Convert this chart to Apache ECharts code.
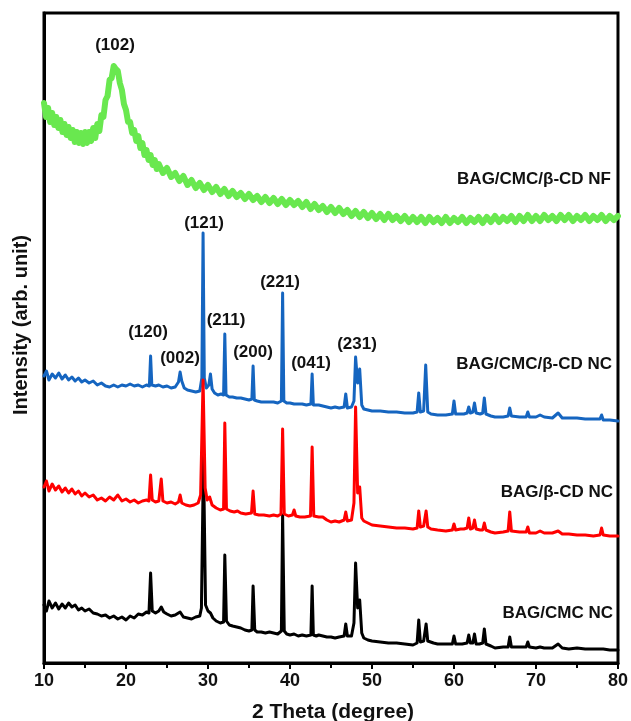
<!DOCTYPE html>
<html>
<head>
<meta charset="utf-8">
<script src="https://cdn.jsdelivr.net/npm/echarts@6/dist/echarts.min.js"></script>
<style>
  html, body { margin: 0; padding: 0; background: #fff; }
  #chart { width: 631px; height: 721px; }
</style>
</head>
<body>
<div id="chart"></div>
<script>
// x axis (2 theta) ticks
const xTicks = [10, 20, 30, 40, 50, 60, 70, 80]

// 各样品的 XRD 数据 [2θ, 强度(任意单位, 已垂直偏移)]
const bagCmcNc = [[10,58],[10.3,52],[10.6,62],[11,55],[11.4,60],[11.8,54],[12.2,59],[12.6,55],[13,60],[13.4,56],[13.8,58],[14.2,53],[14.6,55],[15,52],[15.5,54],[16,50],[16.5,49],[17,47],[17.5,48],[18,45],[18.5,47],[19,44],[19.5,46],[20,43],[20.5,47],[21,45],[21.5,49],[22,48],[22.5,51],[22.8,50],[23.0,90],[23.2,52],[23.6,50],[24,52],[24.3,56],[24.6,51],[25,49],[25.5,47],[26,48],[26.6,51],[27,46],[27.5,45],[28,44],[28.5,46],[29,47],[29.2,55],[29.45,207],[29.7,58],[30,52],[30.3,50],[30.6,45],[31,42],[31.5,40],[31.9,41],[32.05,108],[32.25,42],[32.6,38],[33,37],[33.5,36],[34,35],[34.5,33],[35,32],[35.35,33],[35.5,77],[35.7,33],[36,31],[36.5,31],[37,30],[37.5,31],[38,30],[38.5,29],[38.95,32],[39.1,148],[39.3,32],[39.6,29],[40,28],[40.5,29],[41,27],[41.5,28],[42,27],[42.55,28],[42.7,77],[42.85,28],[43.2,27],[43.5,28],[44,27],[44.5,26],[45,26],[45.5,25],[46,26],[46.6,27],[46.8,39],[47,27],[47.5,27],[47.8,40],[48.0,100],[48.25,55],[48.5,63],[48.75,30],[49,25],[49.5,23],[50,22],[51,21],[52,20],[53,20],[54,19],[55,18],[55.5,20],[55.7,43],[55.9,21],[56.3,22],[56.6,39],[56.8,22],[57,20],[57.5,20],[58,19],[59,19],[59.8,19],[60.0,27],[60.2,19],[61,19],[61.6,20],[61.8,28],[62.0,20],[62.3,20],[62.5,29],[62.7,19],[63.1,19],[63.5,20],[63.7,34],[63.9,19],[64.5,17],[65,15],[66,16],[66.6,16],[66.8,26],[67,16],[68,16],[68.8,16],[69.0,21],[69.2,16],[70,15],[70.5,16],[71,15],[72,15],[72.7,19],[73.2,15],[74,14],[75,15],[76,14],[77,14],[77.8,14],[78.0,16],[78.2,14],[79,13],[80,13]]

const bagCdNc = [[10,176],[10.3,182],[10.6,172],[11,179],[11.4,173],[11.8,177],[12.2,171],[12.6,175],[13,170],[13.4,174],[13.8,169],[14.2,172],[14.6,167],[15,170],[15.5,166],[16,168],[16.5,163],[17,165],[17.5,162],[18,166],[18.5,163],[19,168],[19.5,162],[20,164],[20.5,161],[21,163],[21.5,160],[22,162],[22.5,163],[22.8,162],[23.0,188],[23.2,163],[23.6,161],[24.0,162],[24.3,184],[24.5,162],[25,160],[25.5,161],[26,159],[26.4,161],[26.6,168],[26.8,160],[27.3,158],[27.8,157],[28.3,158],[28.8,160],[29.1,168],[29.4,283],[29.65,175],[29.9,163],[30.2,166],[30.5,158],[31,155],[31.5,153],[31.9,154],[32.05,240],[32.25,154],[32.7,152],[33.2,151],[33.6,152],[34,150],[34.6,149],[35.3,150],[35.5,172],[35.7,149],[36.2,148],[36.8,148],[37.5,147],[38,148],[38.5,147],[38.9,149],[39.1,234],[39.3,149],[39.8,147],[40.3,148],[40.5,153],[40.7,147],[41.2,146],[41.8,146],[42.5,147],[42.7,216],[42.9,147],[43.5,146],[44,146],[44.5,143],[45,141],[45.5,142],[46,141],[46.6,143],[46.8,151],[47,142],[47.5,143],[47.8,160],[48.0,256],[48.25,170],[48.5,176],[48.75,145],[49,142],[49.5,140],[50,138],[51,137],[52,136],[53,135],[54,135],[55,134],[55.5,135],[55.7,152],[55.9,136],[56.3,137],[56.6,152],[56.8,136],[57.2,134],[58,133],[59,132],[59.8,133],[60.0,139],[60.2,133],[60.8,134],[61.0,136],[61.2,134],[61.6,135],[61.8,145],[62.0,134],[62.3,135],[62.5,143],[62.7,134],[63.2,133],[63.5,133],[63.7,140],[63.9,133],[64.5,131],[65,130],[66,131],[66.6,132],[66.8,151],[67,132],[68,131],[68.8,131],[69.0,136],[69.2,130],[70,130],[70.5,132],[71,130],[72,130],[72.7,132],[73.2,129],[74,129],[75,128],[76,128],[77,127],[77.8,128],[78.0,135],[78.2,128],[79,127],[80,127]]

const bagCmcCdNc = [[10,287],[10.3,292],[10.6,283],[11,289],[11.4,285],[11.8,290],[12.2,284],[12.6,288],[13,283],[13.4,286],[13.8,282],[14.2,285],[14.6,281],[15,283],[15.5,280],[16,282],[16.5,278],[17,280],[17.5,277],[18,276],[18.5,278],[19,276],[19.5,278],[20,277],[20.5,279],[21,277],[21.5,278],[22,276],[22.5,278],[22.85,277],[23.0,307],[23.15,278],[23.6,277],[24,278],[24.5,276],[25,277],[25.5,275],[26,276],[26.4,281],[26.6,291],[26.8,282],[27.1,275],[27.5,273],[28,272],[28.5,271],[29,272],[29.25,285],[29.4,430],[29.55,285],[29.8,275],[30.1,278],[30.3,289],[30.5,274],[30.8,270],[31.2,268],[31.6,269],[31.9,268],[32.05,329],[32.2,268],[32.6,266],[33,266],[33.5,265],[34,265],[34.5,264],[35,263],[35.35,264],[35.5,297],[35.65,263],[36,262],[36.5,261],[37,261],[37.5,261],[38,261],[38.5,260],[38.95,262],[39.1,370],[39.25,262],[39.6,260],[40,260],[40.5,259],[41,259],[41.5,259],[42,258],[42.55,259],[42.7,289],[42.85,258],[43.2,258],[43.5,258],[44,257],[44.5,256],[45,255],[45.5,256],[46,255],[46.6,256],[46.8,269],[47,255],[47.5,256],[47.8,262],[48.0,306],[48.25,280],[48.5,294],[48.75,258],[49,254],[49.5,253],[50,252],[51,252],[52,251],[53,251],[54,250],[55,250],[55.5,251],[55.7,270],[55.9,251],[56.3,252],[56.55,298],[56.8,251],[57.2,249],[58,248],[59,248],[59.8,249],[60.0,262],[60.2,249],[60.8,249],[61.2,249],[61.6,250],[61.8,256],[62.0,250],[62.3,251],[62.5,260],[62.7,250],[63.2,249],[63.5,250],[63.7,265],[63.9,249],[64.5,247],[65,246],[66,246],[66.6,247],[66.8,255],[67,247],[68,246],[68.8,246],[69.0,251],[69.2,246],[70,246],[70.5,248],[71,246],[72,245],[72.7,250],[73.2,245],[74,245],[75,245],[76,244],[77,244],[77.8,244],[78.0,248],[78.2,243],[79,243],[80,242]]

const bagCmcCdNf = [[10,560],[10.25,546],[10.5,555],[10.75,541],[11,550],[11.25,538],[11.5,546],[11.75,535],[12,543],[12.25,531],[12.5,539],[12.75,528],[13,536],[13.25,525],[13.5,533],[13.75,521],[14,531],[14.25,520],[14.5,530],[14.75,519],[15,531],[15.25,520],[15.5,531],[15.75,522],[16,535],[16.25,525],[16.5,539],[16.75,532],[17,548],[17.25,546],[17.5,563],[17.75,567],[18,583],[18.25,585],[18.5,597],[18.75,594],[19,592],[19.25,580],[19.5,573],[19.75,559],[20,553],[20.25,541],[20.5,541],[20.75,530],[21,533],[21.25,522],[21.5,527],[21.75,515],[22,520],[22.25,508],[22.5,513],[22.75,503],[23,508],[23.25,498],[23.5,503],[23.75,494],[24,499],[24.5,490],[25,495],[25.5,486],[26,490],[26.5,482],[27,487],[27.5,478],[28,483],[28.5,475],[29,480],[29.5,473],[30,478],[30.5,471],[31,476],[31.5,469],[32,474],[32.5,467],[33,472],[33.5,466],[34,470],[34.5,464],[35,469],[35.5,463],[36,467],[36.5,461],[37,466],[37.5,460],[38,465],[38.5,459],[39,464],[39.5,458],[40,463],[40.5,458],[41,462],[41.5,456],[42,461],[42.5,454],[43,459],[43.5,453],[44,457],[44.5,451],[45,456],[45.5,450],[46,455],[46.5,449],[47,453],[47.5,447],[48,452],[48.5,446],[49,451],[49.5,445],[50,450],[50.5,444],[51,449],[51.5,443],[52,449],[52.5,443],[53,447],[53.5,442],[54,447],[54.5,441],[55,446],[55.5,441],[56,446],[56.5,440],[57,446],[57.5,441],[58,445],[58.5,440],[59,446],[59.5,440],[60,445],[60.5,441],[61,446],[61.5,440],[62,445],[62.5,441],[63,446],[63.5,440],[64,446],[64.5,441],[65,447],[65.5,441],[66,446],[66.5,442],[67,447],[67.5,441],[68,447],[68.5,442],[69,448],[69.5,442],[70,447],[70.5,442],[71,448],[71.5,443],[72,447],[72.5,442],[73,448],[73.5,443],[74,448],[74.5,442],[75,447],[75.5,443],[76,448],[76.5,442],[77,447],[77.5,443],[78,448],[78.5,442],[79,447],[79.5,443],[80,447]]

// 晶面标注
const peakLabels = ['(102)', '(121)', '(120)', '(002)', '(211)', '(200)', '(221)', '(041)', '(231)']
const peakLabelPos = [[115, 45], [204, 223], [148, 332], [180, 358], [226, 320], [253, 352], [280, 282], [311, 363], [357, 344]]

const sampleNames = ['BAG/CMC/β-CD NF', 'BAG/CMC/β-CD NC', 'BAG/β-CD NC', 'BAG/CMC NC']
const sampleNamePos = [[611, 179], [612, 364], [613, 492], [613, 613]]

const FONT = '"Liberation Sans", Arial, sans-serif'
const TEXT_COLOR = '#111'

const chart = echarts.init(document.getElementById('chart'))

const lineSeries = (name, data, color, width) => ({
  name,
  type: 'line',
  data,
  showSymbol: false,
  symbol: 'none',
  lineStyle: { color, width, join: 'round', cap: 'round' },
  itemStyle: { color },
  animation: false
})

const graphic = []
peakLabels.forEach((t, i) => {
  graphic.push({
    type: 'text',
    x: peakLabelPos[i][0],
    y: peakLabelPos[i][1],
    style: {
      text: t,
      fill: TEXT_COLOR,
      font: 'bold 17px ' + FONT,
      textAlign: 'center',
      textVerticalAlign: 'middle'
    }
  })
})
sampleNames.forEach((t, i) => {
  graphic.push({
    type: 'text',
    x: sampleNamePos[i][0],
    y: sampleNamePos[i][1],
    style: {
      text: t,
      fill: TEXT_COLOR,
      font: 'bold 17px ' + FONT,
      textAlign: 'right',
      textVerticalAlign: 'middle'
    }
  })
})
// 坐标轴标题
graphic.push({
  type: 'text',
  x: 333,
  y: 712,
  style: {
    text: '2 Theta (degree)',
    fill: TEXT_COLOR,
    font: 'bold 21px ' + FONT,
    textAlign: 'center',
    textVerticalAlign: 'middle'
  }
})
graphic.push({
  type: 'text',
  x: 21,
  y: 325,
  rotation: Math.PI / 2,
  style: {
    text: 'Intensity (arb. unit)',
    fill: TEXT_COLOR,
    font: 'bold 20px ' + FONT,
    textAlign: 'center',
    textVerticalAlign: 'middle'
  }
})

chart.setOption({
  animation: false,
  backgroundColor: '#fff',
  grid: {
    left: 44,
    right: 13,
    top: 13,
    bottom: 58,
    show: true,
    borderColor: '#000',
    borderWidth: 3
  },
  xAxis: {
    type: 'value',
    min: xTicks[0],
    max: xTicks[xTicks.length - 1],
    interval: 10,
    axisLine: { show: true, onZero: false, lineStyle: { color: '#000', width: 3 } },
    axisTick: { show: true, inside: false, length: 6, lineStyle: { color: '#000', width: 2 } },
    minorTick: { show: true, splitNumber: 2, length: 5, lineStyle: { color: '#000', width: 2 } },
    splitLine: { show: false },
    axisLabel: {
      margin: 9,
      color: TEXT_COLOR,
      fontFamily: FONT,
      fontWeight: 'bold',
      fontSize: 18
    }
  },
  yAxis: {
    type: 'value',
    min: 0,
    max: 650,
    axisLine: { show: true, lineStyle: { color: '#000', width: 3 } },
    axisTick: { show: false },
    axisLabel: { show: false },
    splitLine: { show: false }
  },
  series: [
    lineSeries('BAG/CMC/β-CD NF', bagCmcCdNf, '#69e84f', 6),
    lineSeries('BAG/CMC/β-CD NC', bagCmcCdNc, '#1565c0', 3),
    lineSeries('BAG/CMC NC', bagCmcNc, '#000000', 3),
    lineSeries('BAG/β-CD NC', bagCdNc, '#ff0000', 3)
  ],
  graphic
})

window.addEventListener('resize', () => chart.resize())
</script>
</body>
</html>
